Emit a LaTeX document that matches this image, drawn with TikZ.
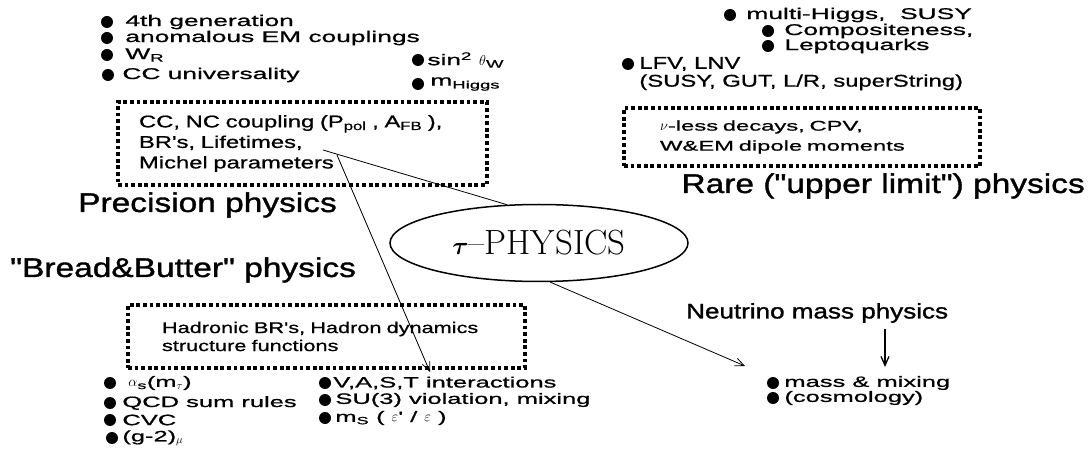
\documentclass[tikz,border=0pt]{standalone}
\usepackage{fontspec}
\usepackage{amsmath}
\usetikzlibrary{arrows.meta,positioning,shapes.geometric}
\newfontfamily\wsans[FakeStretch=1.7, FakeBold=0.9]{Liberation Sans}
\newfontfamily\msans[FakeStretch=1.4, FakeBold=0.8]{Liberation Sans}
\newfontfamily\tsans[FakeStretch=1.24, FakeBold=1.3]{Liberation Sans}

\begin{document}
\begin{tikzpicture}[
    x=1pt, y=-1pt,
    bul/.style={circle, fill=black, inner sep=0pt, minimum size=12pt},
    itm/.style={inner sep=0pt, font=\wsans\fontsize{15.5}{17}\selectfont},
    sitm/.style={inner sep=0pt, font=\wsans\fontsize{15}{17}\selectfont},
    nitm/.style={inner sep=0pt, font=\msans\fontsize{17}{19}\selectfont},
    ttl/.style={inner sep=0pt, font=\tsans\fontsize{27}{29}\selectfont},
    dotbox/.style={draw, line width=3.8pt, dash pattern=on 3.8pt off 2.8pt, inner sep=0pt, align=left},
    ln/.style={line width=0.8pt},
    arr/.style={-{Straight Barb[length=9pt,width=8pt]}, line width=0.8pt},
]
\fill[white] (0,0) rectangle (1092,454);
\useasboundingbox (0,0) rectangle (1092,454);
% Precision physics
\node[bul] (gen) at (107,22) {};
\node[itm, right=12pt of gen] (gent) {4th generation};
\node[bul] (emc) at (107,38) {};
\node[itm, right=12pt of emc] (emct) {anomalous EM couplings};
\node[bul] (wr) at (107,55) {};
\node[itm, right=12pt of wr] (wrt) {W\textsubscript{R}};
\node[bul] (ccu) at (108,75) {};
\node[itm, right=8pt of ccu] (ccut) {CC universality};
\node[bul] (sw) at (418,60) {};
\node[itm, right=3pt of sw] (swt) {sin\textsuperscript{2} $\theta$\textsubscript{W}};
\node[bul] (mh) at (418,84) {};
\node[itm, right=6pt of mh] (mht) {m\textsubscript{Higgs}};
\node[dotbox, minimum width=369pt, minimum height=83pt, text width=327pt,
      font=\msans\fontsize{17}{20.5}\selectfont] (prec) at (302.5,143.5)
      {CC, NC coupling (P\textsubscript{pol} , A\textsubscript{FB} ),\\BR's, Lifetimes,\\Michel parameters};
\node[ttl, anchor=west] (prect) at (78,205) {Precision physics};
% Rare physics
\node[bul] (mhg) at (730,15) {};
\node[itm, right=10pt of mhg] (mhgt) {multi-Higgs,\ \ SUSY};
\node[bul] (cmp) at (768,31) {};
\node[itm, right=10pt of cmp] (cmpt) {Compositeness,};
\node[bul] (lq) at (768,46) {};
\node[itm, right=10pt of lq] (lqt) {Leptoquarks};
\node[bul] (lfv) at (628,64) {};
\node[nitm, right=5pt of lfv] (lfvt) {LFV, LNV};
\node[nitm, below=3pt of lfvt.south west, anchor=north west] (gut) {(SUSY, GUT, L/R, superString)};
\node[dotbox, minimum width=356pt, minimum height=58pt, text width=284pt,
      font=\wsans\fontsize{14}{20}\selectfont] (rare) at (802,137)
      {$\nu$-less decays, CPV,\\W\&EM dipole moments};
\node[ttl, anchor=east] (raret) at (1085,186) {Rare ("upper limit") physics};
% centre
\node[ellipse, draw, line width=1.5pt, minimum width=298pt, minimum height=77pt,
      font=\rmfamily\fontsize{35}{35}\selectfont] (tau) at (539,243)
      {$\boldsymbol{\tau}$--PHYSICS};
% Bread & Butter physics
\node[ttl, anchor=west] (bbt) at (10,270) {"Bread\&Butter" physics};
\node[dotbox, minimum width=397pt, minimum height=63pt, text width=329pt,
      font=\msans\fontsize{15.5}{18}\selectfont] (had) at (326.5,336.5)
      {Hadronic BR's, Hadron dynamics\\structure functions};
\node[bul] (als) at (110,383) {};
\node[sitm, right=12pt of als] (alst) {$\alpha$\textsubscript{s}(m\textsubscript{$\tau$})};
\node[bul] (qcd) at (110,403) {};
\node[sitm, right=6pt of qcd] (qcdt) {QCD sum rules};
\node[bul] (cvc) at (110,420) {};
\node[sitm, right=6pt of cvc] (cvct) {CVC};
\node[bul] (gm2) at (112,438) {};
\node[sitm, right=4pt of gm2] (gm2t) {(g-2)\textsubscript{$\mu$}};
\node[bul] (vast) at (325,383) {};
\node[sitm, right=2pt of vast] (vastt) {V,A,S,T interactions};
\node[bul] (su3) at (325,400) {};
\node[sitm, right=4pt of su3] (su3t) {SU(3) violation, mixing};
\node[bul] (mss) at (325,418) {};
\node[sitm, right=4pt of mss] (msst) {m\textsubscript{S} ( $\varepsilon$' / $\varepsilon$ )};
% Neutrino mass physics
\node[ttl, font=\tsans\fontsize{21}{23}\selectfont, anchor=west] (nut) at (686,313) {Neutrino mass physics};
\node[bul] (mix) at (773,383) {};
\node[sitm, right=5pt of mix] (mixt) {mass \& mixing};
\node[bul] (cos) at (773,398) {};
\node[sitm, right=5pt of cos] (cost) {(cosmology)};
% connectors
\coordinate (brl) at (323,150);
\coordinate (mic) at (337,155);
\coordinate (vtip) at (430,372);
\coordinate (ntip) at (745,366);
\coordinate (ntop) at (885,329);
\coordinate (nbot) at (885,367);
\draw[ln] (brl) -- (tau.130);
\draw[arr] (mic) -- (vtip);
\draw[arr] (tau.286) -- (ntip);
\draw[arr, line width=1.3pt] (ntop) -- (nbot);
\end{tikzpicture}
\end{document}
